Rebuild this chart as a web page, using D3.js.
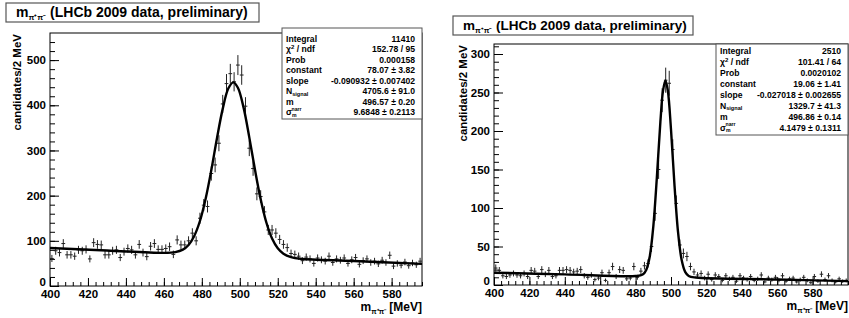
<!DOCTYPE html>
<html><head><meta charset="utf-8">
<script src="https://cdn.jsdelivr.net/npm/d3@7"></script>
<style>
body{margin:0;background:#fff}
svg{display:block}
text{font-family:"Liberation Sans",Arial,Helvetica,sans-serif;font-weight:bold;fill:#000}
</style></head><body>
<svg id="c" width="849" height="318"></svg>
<script>
// ---------- data ----------
const binStart = 401, binStep = 2;
// left panel (LHCb 2009, wide peak) counts per 2 MeV bin, 401..595
const countsLeft = [61,78,74,94,69,69,66,80,78,81,60,96,92,91,69,69,78,80,63,76,
  83,80,69,92,74,65,88,94,81,81,83,87,70,102,91,91,100,117,100,150,
  179,176,249,268,316,403,448,470,452,489,467,398,305,260,204,198,164,124,124,117,
  103,92,85,72,70,66,56,64,60,50,62,58,55,66,52,60,57,62,50,58,
  63,48,56,60,52,55,49,57,52,68,44,50,46,53,45,51,47,55];
// right panel (narrow peak) counts per 2 MeV bin, 401..599
const countsRight = [22,19,12,11,13,15,13,12,15,11,19,18,11,20,14,19,11,12,19,19,
  20,19,17,18,20,12,10,13,7,9,16,6,16,24,11,20,19,8,9,24,
  10,18,25,28,50,93,150,240,266,262,176,106,52,41,37,24,17,13,15,9,
  14,7,13,11,6,12,8,10,5,12,9,7,11,6,8,13,4,9,7,10,
  6,12,5,8,9,4,7,10,6,3,11,5,14,7,12,6,4,8,5,6];
// fit curves
const fitLeftX = [400,430,460,466,470,473,476,479,482,485,488,491,494,496.6,499,502,505,508,511,514,517,520,523,527,532,560,596];
const fitLeftY = [84,78.6,73.3,74.9,80.4,90.8,110.8,143.9,193.2,256.6,327.8,392,437.6,450.7,438.7,394.8,329,257.2,192,140.5,105,83.4,71.5,64.1,60.4,55.4,49];
const fitRightX = [400,440,480,484,486,488,490,492,494,495.5,496.86,498.2,500,502,504,506,508,510,514,560,600];
const fitRightY = [16,13.8,11.6,13.5,19.6,37.1,75.9,139.2,211.8,252.4,265.7,252.6,202,128.7,68.2,32.7,17,11.7,9.7,7.2,5];
// statistics boxes
const statLabelsLeft = ["Integral","chi2","Prob","constant","slope","Nsig","m","sigma"];
const statValuesLeft = ["11410","152.78 / 95","0.000158","78.07 ± 3.82","-0.090932 ± 0.007402","4705.6 ± 91.0","496.57 ± 0.20","9.6848 ± 0.2113"];
const statValuesRight = ["2510","101.41 / 64","0.0020102","19.06 ± 1.41","-0.027018 ± 0.002655","1329.7 ± 41.3","496.86 ± 0.14","4.1479 ± 0.1311"];
const titleText = " (LHCb 2009 data, preliminary)";
const yTitle = "candidates/2 MeV";
const xTickLabels = [400,420,440,460,480,500,520,540,560,580];

// ---------- drawing ----------
const svg = d3.select("#c");

function panel(o){
  const g = svg.append("g");
  const x = d3.scaleLinear().domain(o.xDomain).range([o.left,o.right]);
  const y = d3.scaleLinear().domain(o.yDomain).range([o.bottom,o.top]);
  // frame
  g.append("rect").attr("x",o.left).attr("y",o.top).attr("width",o.right-o.left).attr("height",o.bottom-o.top)
    .attr("fill","#fff").attr("stroke","#000").attr("stroke-width",1);
  // minor ticks
  const xa = g.append("g").attr("transform",`translate(0,${o.bottom})`)
    .call(d3.axisBottom(x).tickValues(d3.range(o.xDomain[0],o.xDomain[1]+0.01,4)).tickSize(-4).tickFormat(""));
  const xb = g.append("g").attr("transform",`translate(0,${o.bottom})`)
    .call(d3.axisBottom(x).tickValues(xTickLabels).tickSize(-8).tickPadding(10).tickFormat(d3.format("d")));
  const ya = g.append("g").attr("transform",`translate(${o.left},0)`)
    .call(d3.axisLeft(y).tickValues(d3.range(0,o.yDomain[1],o.yMinor)).tickSize(-5).tickFormat(""));
  const yb = g.append("g").attr("transform",`translate(${o.left},0)`)
    .call(d3.axisLeft(y).tickValues(d3.range(0,o.yDomain[1],o.yMajor)).tickSize(-9).tickPadding(4).tickFormat(d3.format("d")));
  [xa,xb,ya,yb].forEach(a=>{a.select(".domain").remove(); a.selectAll("line").attr("stroke","#000");});
  xb.selectAll("text").attr("font-size",11.5).attr("font-family","Liberation Sans, Arial").attr("font-weight","bold").attr("dy","0.2em");
  yb.selectAll("text").attr("font-size",11.5).attr("font-family","Liberation Sans, Arial").attr("font-weight","bold");
  yb.selectAll(".tick").filter(d=>d===0).select("text").attr("dy","-0.05em");
  // data points with error bars
  const pts = g.append("g").attr("stroke","#222").attr("stroke-width",1);
  o.counts.forEach((c,i)=>{
    const xc = binStart + i*binStep;
    const e = Math.sqrt(c);
    pts.append("line").attr("x1",x(xc-binStep/2)).attr("x2",x(xc+binStep/2)).attr("y1",y(c)).attr("y2",y(c));
    pts.append("line").attr("x1",x(xc)).attr("x2",x(xc)).attr("y1",y(Math.max(0,c-e))).attr("y2",y(c+e));
  });
  // fit curve
  const line = d3.line().x(d=>x(d[0])).y(d=>y(d[1])).curve(d3.curveCatmullRom.alpha(0.5));
  g.append("path").attr("d",line(o.fitX.map((v,i)=>[v,o.fitY[i]])))
    .attr("fill","none").attr("stroke","#000").attr("stroke-width",2.4);
  // axis titles
  const yt = g.append("text").attr("transform",`translate(${o.yTitleX},${o.top+1}) rotate(-90)`)
    .attr("text-anchor","end").attr("font-size",o.yTitleSize).text(yTitle);
  const xt = g.append("text").attr("x",o.right).attr("y",o.bottom+25).attr("text-anchor","end").attr("font-size",12);
  xt.append("tspan").text("m");
  xt.append("tspan").attr("font-size",7).attr("dy",3).text("π⁺π⁻");
  xt.append("tspan").attr("dy",-3).text(" [MeV]");
  // title box
  g.append("rect").attr("x",o.tBox[0]).attr("y",o.tBox[1]).attr("width",o.tBox[2]).attr("height",o.tBox[3])
    .attr("fill","#fff").attr("stroke","#555").attr("stroke-width",1.2);
  const tt = g.append("text").attr("x",o.tBox[0]+10).attr("y",o.tBox[1]+o.tBox[3]-5).attr("font-size",o.tSize);
  tt.append("tspan").text("m");
  tt.append("tspan").attr("font-size",o.tSize*0.55).attr("dy",3).text("π⁺π⁻");
  tt.append("tspan").attr("dy",-3).text(titleText);
  // stats box
  const sb = o.sBox;
  g.append("rect").attr("x",sb[0]).attr("y",sb[1]).attr("width",sb[2]).attr("height",sb[3])
    .attr("fill","#fff").attr("stroke","#555").attr("stroke-width",1);
  statLabelsLeft.forEach((lab,i)=>{
    const yy = o.sRow0 + i*o.sRowH;
    const t = g.append("text").attr("x",sb[0]+4).attr("y",yy).attr("font-size",o.sSize).attr("dominant-baseline","middle");
    if(lab==="chi2"){ t.append("tspan").text("χ"); t.append("tspan").attr("font-size",o.sSize*0.7).attr("dy",-3).text("2"); t.append("tspan").attr("dy",3).text(" / ndf"); }
    else if(lab==="Nsig"){ t.append("tspan").text("N"); t.append("tspan").attr("font-size",o.sSize*0.65).attr("dy",2.5).text("signal"); }
    else if(lab==="sigma"){ t.append("tspan").text("σ"); t.append("tspan").attr("font-size",o.sSize*0.6).attr("dy",2.5).text("m");
      t.append("tspan").attr("font-size",o.sSize*0.6).attr("dx",-5).attr("dy",-6).text("narr"); }
    else t.text(lab);
    g.append("text").attr("x",sb[0]+sb[2]-7).attr("y",yy).attr("font-size",o.sSize).attr("dominant-baseline","middle")
      .attr("text-anchor","end").text(o.sValues[i]);
  });
}

panel({xDomain:[400,596], yDomain:[0,560], left:50, right:422, top:33, bottom:286, yMajor:100, yMinor:20,
  counts:countsLeft, fitX:fitLeftX, fitY:fitLeftY, yTitleX:21, yTitleSize:11.5,
  tBox:[6,3,253,19], tSize:14, sBox:[282,28,140,91], sRow0:39.5, sRowH:10.5, sSize:8.6, sValues:statValuesLeft});
panel({xDomain:[400,600], yDomain:[0,313], left:494, right:848, top:44, bottom:285, yMajor:50, yMinor:10,
  counts:countsRight, fitX:fitRightX, fitY:fitRightY, yTitleX:467, yTitleSize:11.5,
  tBox:[453,16,240,19], tSize:13.5, sBox:[716,44,132,91], sRow0:51.5, sRowH:11, sSize:8.6, sValues:statValuesRight});
</script></body></html>
